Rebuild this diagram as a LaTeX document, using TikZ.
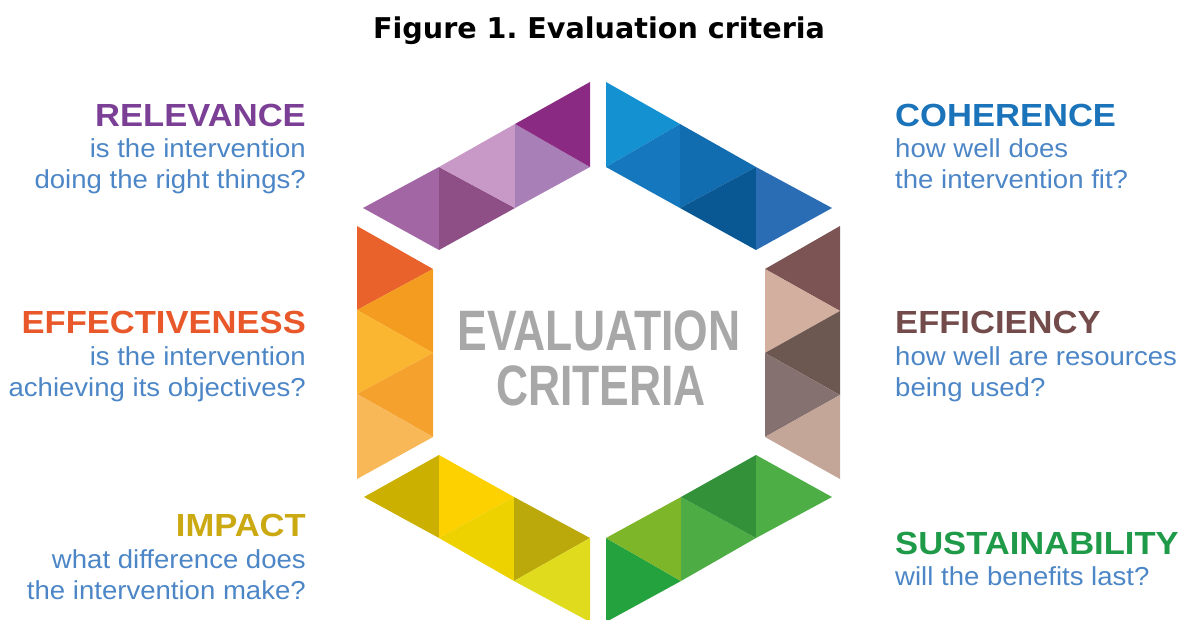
\documentclass[tikz,border=0pt]{standalone}
\usepackage{fontspec}
\setmainfont{Liberation Sans}
\newfontfamily\titlefont{DejaVu Sans}
\newfontfamily\headfont{Liberation Sans}[FakeStretch=1.08]
\newfontfamily\labelfont{Liberation Sans}[FakeStretch=1.06]
\newfontfamily\centrefont{Liberation Sans}[FakeStretch=0.78]
\frenchspacing

\definecolor{relcol}{HTML}{7B3F95}
\definecolor{cohcol}{HTML}{1B73BA}
\definecolor{effcol}{HTML}{E8582A}
\definecolor{eficol}{HTML}{734B4B}
\definecolor{impcol}{HTML}{CBA912}
\definecolor{suscol}{HTML}{1F9A48}
\definecolor{subcol}{HTML}{4C86C6}
\definecolor{midcol}{HTML}{A8A8A8}

\definecolor{relA}{HTML}{A266A4}
\definecolor{relB}{HTML}{8E4F87}
\definecolor{relC}{HTML}{C898C6}
\definecolor{relD}{HTML}{A97FB7}
\definecolor{relE}{HTML}{8B2A83}
\definecolor{cohA}{HTML}{1391D0}
\definecolor{cohB}{HTML}{1578BE}
\definecolor{cohC}{HTML}{116CB0}
\definecolor{cohD}{HTML}{0A5893}
\definecolor{cohE}{HTML}{2B6DB5}
\definecolor{effA}{HTML}{E9622B}
\definecolor{effB}{HTML}{F39C1F}
\definecolor{effC}{HTML}{FAB630}
\definecolor{effD}{HTML}{F5A12E}
\definecolor{effE}{HTML}{F8B857}
\definecolor{efiA}{HTML}{7B5453}
\definecolor{efiB}{HTML}{D3AF9F}
\definecolor{efiC}{HTML}{6C5751}
\definecolor{efiD}{HTML}{85716F}
\definecolor{efiE}{HTML}{C3A698}
\definecolor{impA}{HTML}{CCB000}
\definecolor{impB}{HTML}{FDD000}
\definecolor{impC}{HTML}{EDD200}
\definecolor{impD}{HTML}{BBA80B}
\definecolor{impE}{HTML}{E0DC1D}
\definecolor{susA}{HTML}{23A23D}
\definecolor{susB}{HTML}{7EB62A}
\definecolor{susC}{HTML}{4DAC43}
\definecolor{susD}{HTML}{33913A}
\definecolor{susE}{HTML}{4CAE45}

\begin{document}
\begin{tikzpicture}[
x=1pt, y=-1pt,
titlenode/.style={anchor=base, inner sep=0pt, font=\titlefont\bfseries\fontsize{28.6}{28.6}\selectfont},
midnode/.style={anchor=base, inner sep=0pt, text=midcol, font=\centrefont\bfseries\fontsize{57}{57}\selectfont},
lefthead/.style={anchor=base east, inner sep=0pt, font=\headfont\bfseries\fontsize{32}{32}\selectfont},
righthead/.style={anchor=base west, inner sep=0pt, font=\headfont\bfseries\fontsize{32}{32}\selectfont},
leftsub/.style={anchor=base east, inner sep=0pt, text=subcol, font=\labelfont\fontsize{26}{26}\selectfont},
rightsub/.style={anchor=base west, inner sep=0pt, text=subcol, font=\labelfont\fontsize{26}{26}\selectfont}
]
\useasboundingbox (0,0) rectangle (1180,620);

\node[titlenode] (title) at (599,39) {Figure 1. Evaluation criteria};

\fill[relA] (363,208) -- (439,167) -- (439,250) -- cycle;
\fill[relB] (439,167) -- (439,250) -- (515,208) -- cycle;
\fill[relC] (439,167) -- (515,124) -- (515,208) -- cycle;
\fill[relD] (515,124) -- (515,208) -- (590,167) -- cycle;
\fill[relE] (515,124) -- (590,82) -- (590,167) -- cycle;

\fill[cohA] (606,82) -- (606,167) -- (680,124) -- cycle;
\fill[cohB] (606,167) -- (680,124) -- (680,208) -- cycle;
\fill[cohC] (680,124) -- (680,208) -- (756,167) -- cycle;
\fill[cohD] (680,208) -- (756,167) -- (756,250) -- cycle;
\fill[cohE] (756,167) -- (756,250) -- (832,208) -- cycle;

\fill[effA] (357,226) -- (357,310) -- (433,269) -- cycle;
\fill[effB] (433,269) -- (357,310) -- (433,353) -- cycle;
\fill[effC] (357,310) -- (433,353) -- (357,394) -- cycle;
\fill[effD] (433,353) -- (357,394) -- (433,437) -- cycle;
\fill[effE] (357,394) -- (433,437) -- (357,479) -- cycle;

\fill[efiA] (840,226) -- (765,269) -- (840,311) -- cycle;
\fill[efiB] (765,269) -- (840,311) -- (765,353) -- cycle;
\fill[efiC] (840,311) -- (765,353) -- (840,395) -- cycle;
\fill[efiD] (765,353) -- (840,395) -- (765,437) -- cycle;
\fill[efiE] (840,395) -- (765,437) -- (840,479) -- cycle;

\fill[impA] (364,497) -- (439,455) -- (439,538) -- cycle;
\fill[impB] (439,455) -- (439,538) -- (514,497) -- cycle;
\fill[impC] (439,538) -- (514,497) -- (514,581) -- cycle;
\fill[impD] (514,497) -- (514,581) -- (590,538) -- cycle;
\fill[impE] (514,581) -- (590,538) -- (590,622) -- cycle;

\fill[susA] (606,538) -- (606,622) -- (681,581) -- cycle;
\fill[susB] (606,538) -- (681,497) -- (681,581) -- cycle;
\fill[susC] (681,497) -- (681,581) -- (756,538) -- cycle;
\fill[susD] (681,497) -- (756,455) -- (756,538) -- cycle;
\fill[susE] (756,455) -- (756,538) -- (832,497) -- cycle;

\node[midnode] (eval) at (599,350) {EVALUATION};
\node[midnode] (crit) at (601,405) {CRITERIA};

\node[lefthead, text=relcol] (rel) at (306,127) {RELEVANCE};
\node[leftsub] (relA) at ([yshift=-31pt]rel.base east) {is the intervention};
\node[leftsub] (relB) at ([yshift=-31pt]relA.base east) {doing the right things?};

\node[righthead, text=cohcol] (coh) at (895,127) {COHERENCE};
\node[rightsub] (cohA) at ([yshift=-31pt]coh.base west) {how well does};
\node[rightsub] (cohB) at ([yshift=-31pt]cohA.base west) {the intervention fit?};

\node[lefthead, text=effcol] (eff) at (306,333) {EFFECTIVENESS};
\node[leftsub] (effA) at ([yshift=-32pt]eff.base east) {is the intervention};
\node[leftsub] (effB) at ([yshift=-31pt]effA.base east) {achieving its objectives?};

\node[righthead, text=eficol] (efi) at (895,333) {EFFICIENCY};
\node[rightsub] (efiA) at ([yshift=-32pt]efi.base west) {how well are resources};
\node[rightsub] (efiB) at ([yshift=-31pt]efiA.base west) {being used?};

\node[lefthead, text=impcol] (imp) at (306,536) {IMPACT};
\node[leftsub] (impA) at ([yshift=-32pt]imp.base east) {what difference does};
\node[leftsub] (impB) at ([yshift=-31pt]impA.base east) {the intervention make?};

\node[righthead, text=suscol] (sus) at (895,554) {SUSTAINABILITY};
\node[rightsub] (susA) at ([yshift=-31pt]sus.base west) {will the benefits last?};
\end{tikzpicture}
\end{document}
